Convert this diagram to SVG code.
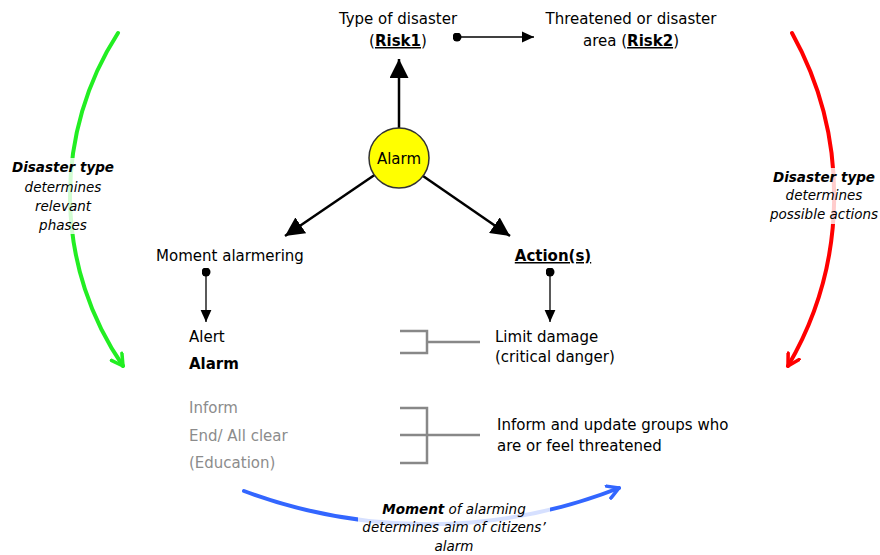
<svg xmlns="http://www.w3.org/2000/svg" width="880" height="555" viewBox="0 0 880 555">
<defs>
<style>
text{font-family:"DejaVu Sans","Liberation Sans",sans-serif;font-size:15px;fill:#000}
.c{text-anchor:middle}
.b{font-weight:bold}
.u{text-decoration:underline}
.g{fill:#8c8c8c}
.it{font-style:italic;font-size:13.5px}
.k{stroke:#000;stroke-width:2.5;fill:none}
.br{stroke:#888;stroke-width:2.5;fill:none}
.arc{fill:none;stroke-width:4;stroke-linecap:round}
</style>
<marker id="ah" viewBox="0 0 10 10" refX="10" refY="5" markerWidth="19" markerHeight="19" orient="auto" markerUnits="userSpaceOnUse"><path d="M0,0L10,5L0,10z" fill="#000"/></marker>
<marker id="ahs" viewBox="0 0 10 10" refX="10" refY="5" markerWidth="12" markerHeight="12" orient="auto" markerUnits="userSpaceOnUse"><path d="M0,0.5L10,5L0,9.5z" fill="#000"/></marker>
<marker id="dot" viewBox="0 0 10 10" refX="5" refY="5" markerWidth="9" markerHeight="9" markerUnits="userSpaceOnUse"><circle cx="5" cy="5" r="5" fill="#000"/></marker>
<marker id="ag" viewBox="0 0 10 10" refX="8" refY="5" markerWidth="4" markerHeight="4" orient="auto" markerUnits="strokeWidth"><path d="M1,1L8,5L1,9" fill="none" stroke="#22ee22" stroke-width="2.2" stroke-linecap="round" stroke-linejoin="round"/></marker>
<marker id="ar" viewBox="0 0 10 10" refX="8" refY="5" markerWidth="4" markerHeight="4" orient="auto" markerUnits="strokeWidth"><path d="M1,1L8,5L1,9" fill="none" stroke="#ff0000" stroke-width="2.2" stroke-linecap="round" stroke-linejoin="round"/></marker>
<marker id="ab" viewBox="0 0 10 10" refX="8" refY="5" markerWidth="4" markerHeight="4" orient="auto" markerUnits="strokeWidth"><path d="M1,1L8,5L1,9" fill="none" stroke="#3366ff" stroke-width="2.2" stroke-linecap="round" stroke-linejoin="round"/></marker>
</defs>
<rect width="880" height="555" fill="#fff"/>
<g id="connectors">
<path class="arc" d="M118,33 A300,300 0 0 0 123,366" stroke="#22ee22" marker-end="url(#ag)"/>
<path class="arc" d="M792,33 A336,336 0 0 1 788,366" stroke="#ff0000" marker-end="url(#ar)"/>
<path class="arc" d="M244,491 A525,525 0 0 0 619,488" stroke="#3366ff" marker-end="url(#ab)"/>
<line class="k" x1="399" y1="128" x2="399" y2="59" marker-end="url(#ah)"/>
<line class="k" x1="376" y1="174" x2="285" y2="236" marker-end="url(#ah)"/>
<line class="k" x1="423" y1="176" x2="510" y2="236" marker-end="url(#ah)"/>
<line stroke="#000" stroke-width="1.3" x1="457" y1="37" x2="534" y2="37" marker-start="url(#dot)" marker-end="url(#ahs)"/>
<line stroke="#000" stroke-width="1.3" x1="206" y1="272" x2="206" y2="322" marker-start="url(#dot)" marker-end="url(#ahs)"/>
<line stroke="#000" stroke-width="1.3" x1="550" y1="272" x2="550" y2="322" marker-start="url(#dot)" marker-end="url(#ahs)"/>
<path class="br" d="M400,331H427V353H400M427,342H480"/>
<path class="br" d="M400,408H427V463H400M400,435H480"/>
</g>
<g id="alarm">
<circle cx="399" cy="158" r="30" fill="#ffff00" stroke="#333" stroke-width="1.5"/>
<text class="c" x="399" y="164">Alarm</text>
</g>
<g id="risk1">
<text class="c" x="398" y="24">Type of disaster</text>
<text class="c" x="398" y="46">(<tspan class="b u">Risk1</tspan>)</text>
</g>
<g id="risk2">
<text class="c" x="631" y="24">Threatened or disaster</text>
<text class="c" x="631" y="46">area (<tspan class="b u">Risk2</tspan>)</text>
</g>
<g id="moment">
<text class="c" x="230" y="261">Moment alarmering</text>
</g>
<g id="actions">
<text class="c b u" x="553" y="261">Action(s)</text>
</g>
<g id="phases">
<text x="189" y="342">Alert</text>
<text class="b" x="189" y="369">Alarm</text>
<text class="g" x="189" y="413">Inform</text>
<text class="g" x="189" y="441">End/ All clear</text>
<text class="g" x="189" y="468">(Education)</text>
</g>
<g id="limit">
<text x="495" y="342">Limit damage</text>
<text x="495" y="362">(critical danger)</text>
</g>
<g id="inform">
<text x="497" y="430">Inform and update groups who</text>
<text x="497" y="451">are or feel threatened</text>
</g>
<g id="label-green">
<rect x="10" y="158" width="108" height="76" fill="#fff" opacity="0.8"/>
<text class="c it" x="63" y="172"><tspan class="b">Disaster type</tspan></text>
<text class="c it" x="63" y="192">determines</text>
<text class="c it" x="63" y="211">relevant</text>
<text class="c it" x="63" y="230">phases</text>
</g>
<g id="label-red">
<rect x="766" y="168" width="114" height="56" fill="#fff" opacity="0.8"/>
<text class="c it" x="824" y="182"><tspan class="b">Disaster type</tspan></text>
<text class="c it" x="824" y="200">determines</text>
<text class="c it" x="824" y="219">possible actions</text>
</g>
<g id="label-blue">
<rect x="358" y="500" width="192" height="36" fill="#fff" opacity="0.8"/>
<text class="c it" x="454" y="514"><tspan class="b">Moment</tspan> of alarming</text>
<text class="c it" x="454" y="532">determines aim of citizens’</text>
<text class="c it" x="454" y="551">alarm</text>
</g>
</svg>
